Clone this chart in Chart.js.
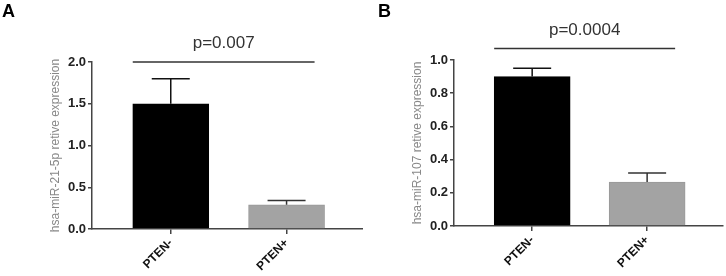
<!DOCTYPE html>
<html>
<head>
<meta charset="utf-8">
<script src="https://cdn.jsdelivr.net/npm/chart.js@4.4.1/dist/chart.umd.min.js"></script>
<style>
  body { margin: 0; background: #fff; }
  .wrap { display: flex; width: 726px; height: 276px; }
  canvas { display: block; }
</style>
</head>
<body>
<div class="wrap">
  <canvas id="chartA" width="363" height="276"></canvas>
  <canvas id="chartB" width="363" height="276"></canvas>
</div>
<script>
// data
const categories = ['PTEN-', 'PTEN+'];
const mir21Values = [1.5, 0.29];
const mir21Errors = [0.3, 0.05];
const mir107Values = [0.9, 0.265];
const mir107Errors = [0.05, 0.055];
const mir21Ticks = [0, 0.5, 1.0, 1.5, 2.0];
const mir107Ticks = [0, 0.2, 0.4, 0.6, 0.8, 1.0];
const pLabels = ['p=0.007', 'p=0.0004'];
const sigLevels = [2.0, 1.07];   // height of the significance bar, in axis units
const barColors = ['#000000', '#a3a3a3'];

// error bars, significance bar and panel letter
const extrasPlugin = {
  id: 'extras',
  afterDatasetsDraw(chart, args, opts) {
    const ctx = chart.ctx;
    const x = chart.scales.x, y = chart.scales.y;
    ctx.save();
    ctx.lineWidth = 1.5;
    opts.values.forEach(function(v, i) {
      const px = x.getPixelForValue(i + 1);
      const top = y.getPixelForValue(v + opts.errors[i]);
      const base = y.getPixelForValue(v);
      ctx.strokeStyle = i === 0 ? '#111' : '#333';
      ctx.beginPath();
      ctx.moveTo(px, base);
      ctx.lineTo(px, top);
      ctx.moveTo(px - 19, top);
      ctx.lineTo(px + 19, top);
      ctx.stroke();
    });
    ctx.restore();
  },
  afterDraw(chart, args, opts) {
    const ctx = chart.ctx;
    const x = chart.scales.x, y = chart.scales.y;
    const x1 = x.getPixelForValue(1) - 38;
    const x2 = x.getPixelForValue(2) + 28;
    const ly = y.getPixelForValue(opts.sigLevel);
    ctx.save();
    ctx.strokeStyle = '#333';
    ctx.lineWidth = 1.5;
    ctx.beginPath();
    ctx.moveTo(x1, ly);
    ctx.lineTo(x2, ly);
    ctx.stroke();
    ctx.fillStyle = '#333';
    ctx.font = '17px "Liberation Sans", Arial, sans-serif';
    ctx.textAlign = 'center';
    ctx.textBaseline = 'bottom';
    ctx.fillText(opts.pLabel, (x1 + x2) / 2, ly - 10);
    ctx.fillStyle = '#000';
    ctx.font = 'bold 18px "Liberation Sans", Arial, sans-serif';
    ctx.textAlign = 'left';
    ctx.textBaseline = 'top';
    ctx.fillText(opts.letter, opts.letterX, 3);
    ctx.restore();
  }
};

function makeChart(id, values, errors, yTicks, yTitle, pLabel, sigLevel, letter, letterX, pad) {
  const ctx = document.getElementById(id).getContext('2d');
  return new Chart(ctx, {
    type: 'bar',
    data: {
      datasets: [{
        data: values.map(function(v, i) { return { x: i + 1, y: v }; }),
        backgroundColor: barColors,
        borderColor: ['#000', '#999'],
        borderWidth: 1,
        barThickness: 76
      }]
    },
    options: {
      responsive: false,
      devicePixelRatio: 1,
      animation: false,
      layout: { padding: { left: pad.left, top: pad.top, right: pad.right, bottom: 0 } },
      plugins: {
        legend: { display: false },
        tooltip: { enabled: false },
        extras: { values: values, errors: errors, pLabel: pLabel, sigLevel: sigLevel, letter: letter, letterX: letterX }
      },
      scales: {
        x: {
          type: 'linear',
          offset: false,
          min: 0.32,
          max: 2.66,
          afterBuildTicks: function(scale) { scale.ticks = categories.map(function(c, i) { return { value: i + 1 }; }); },
          afterFit: function(scale) { scale.height = pad.xHeight; },
          border: { color: '#444', width: 1.5 },
          grid: { offset: false, drawOnChartArea: false, drawTicks: true, tickLength: 5, color: '#444', lineWidth: 1.5 },
          ticks: {
            minRotation: 45,
            maxRotation: 45,
            padding: 2,
            color: '#111',
            font: { family: '"Liberation Sans", Arial, sans-serif', size: 12, weight: 'bold' },
            callback: function(v) { return categories[v - 1]; }
          }
        },
        y: {
          min: 0,
          max: yTicks[yTicks.length - 1],
          afterBuildTicks: function(scale) { scale.ticks = yTicks.map(function(t) { return { value: t }; }); },
          afterFit: function(scale) { scale.width = pad.yWidth; },
          border: { color: '#444', width: 1.5 },
          grid: { drawOnChartArea: false, drawTicks: true, tickLength: 4, color: '#444', lineWidth: 1.5 },
          ticks: {
            padding: 2,
            color: '#222',
            font: { family: '"Liberation Sans", Arial, sans-serif', size: 13, weight: 'bold' },
            callback: function(v) { return v.toFixed(1); }
          },
          title: {
            display: true,
            text: yTitle,
            color: '#888',
            padding: 0,
            font: { family: '"Liberation Sans", Arial, sans-serif', size: 12 }
          }
        }
      }
    },
    plugins: [extrasPlugin]
  });
}

makeChart('chartA', mir21Values, mir21Errors, mir21Ticks, 'hsa-miR-21-5p retive expression',
  pLabels[0], sigLevels[0], 'A', 2, { left: 48, top: 62, right: 0, yWidth: 44, xHeight: 47 });
makeChart('chartB', mir107Values, mir107Errors, mir107Ticks, 'hsa-miR-107 retive expression',
  pLabels[1], sigLevels[1], 'B', 15, { left: 47, top: 60, right: 3, yWidth: 44, xHeight: 50 });
</script>
</body>
</html>
